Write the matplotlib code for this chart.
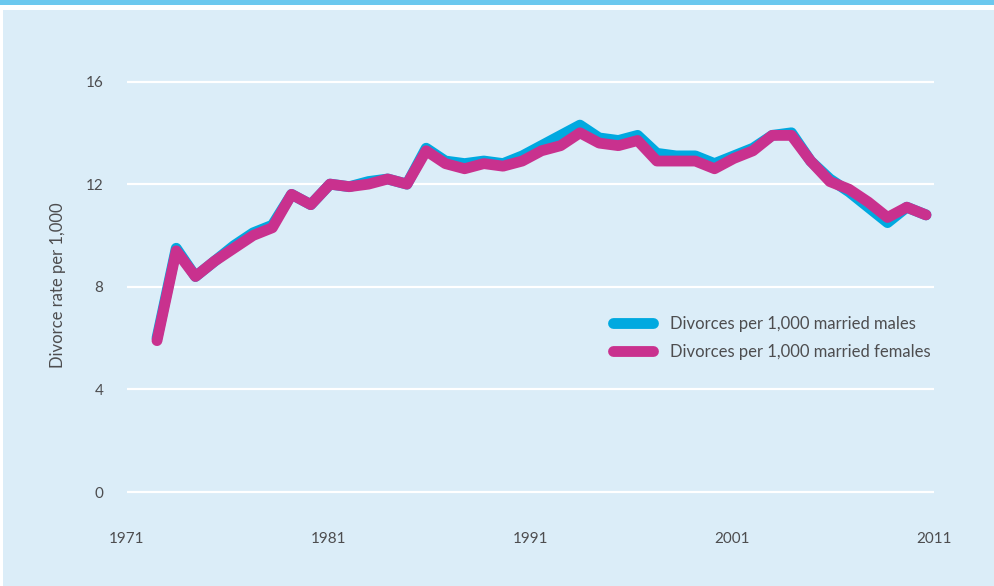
#!/usr/bin/env python3
""" Divorce rates per 1,000 married men and women, 1971 to 2011.
"""
import numpy as np
import matplotlib
matplotlib.use('Agg')
import matplotlib.pyplot as plt
from matplotlib.patches import Rectangle

years = list(range(1971, 2012))
males = [6.0, 9.5, 8.4, 9.0, 9.6, 10.1, 10.4, 11.6, 11.2, 12.0,
         11.9, 12.1, 12.2, 12.0, 13.4, 12.9, 12.8, 12.9, 12.8, 13.1,
         13.5, 13.9, 14.3, 13.8, 13.7, 13.9, 13.2, 13.1, 13.1, 12.8,
         13.1, 13.4, 13.9, 14.0, 12.9, 12.2, 11.7, 11.1, 10.5, 11.1,
         10.8]
females = [5.9, 9.4, 8.4, 9.0, 9.5, 10.0, 10.3, 11.6, 11.2, 12.0,
           11.9, 12.0, 12.2, 12.0, 13.3, 12.8, 12.6, 12.8, 12.7, 12.9,
           13.3, 13.5, 14.0, 13.6, 13.5, 13.7, 12.9, 12.9, 12.9, 12.6,
           13.0, 13.3, 13.9, 13.9, 12.9, 12.1, 11.8, 11.3, 10.7, 11.1,
           10.8]
xtick_labels = ['1971', '1981', '1991', '2001', '2011']
yticks = [0, 4, 8, 12, 16]
series_labels = ['Divorces per 1,000 married males',
                 'Divorces per 1,000 married females']

BLUE = '#00a9e0'
MAGENTA = '#c9318e'
PANEL = '#dbedf8'
BAR = '#6cc8ee'
TEXT = '#4d4d4f'

plt.rcParams['font.family'] = ['Lato', 'DejaVu Sans']

W, H = 995, 586
fig = plt.figure(figsize=(W / 100, H / 100), dpi=100)
fig.patch.set_facecolor('white')
fig.patches.append(Rectangle((0, 1 - 5 / H), 1, 5 / H, transform=fig.transFigure,
                             facecolor=BAR, edgecolor='none', zorder=-10))
fig.patches.append(Rectangle((3 / W, 0), 1, 1 - 10 / H, transform=fig.transFigure,
                             facecolor=PANEL, edgecolor='none', zorder=-10))

# axes box: gridlines run from x=127 to x=934, y(0)=492, y(16)=81.5
y0_px, y16_px = 492, 81.5
ppu = (y0_px - y16_px) / 16
ylo, yhi = -0.1, 16.1
ax_bottom = 1 - (y0_px + 0.1 * ppu) / H
ax_top = 1 - (y16_px - 0.1 * ppu) / H
ax = fig.add_axes([127 / W, ax_bottom, (934 - 127) / W, ax_top - ax_bottom])
ax.set_facecolor('none')
ax.set_zorder(2)

# data x: 1971 at pixel 157, 2011 at pixel 926
ppy = (926 - 157) / 40
xlo = 1971 + (127 - 157) / ppy
xhi = 1971 + (934 - 157) / ppy
ax.set_xlim(xlo, xhi)
ax.set_ylim(ylo, yhi)

ax.plot(years, males, color=BLUE, lw=7.8, solid_capstyle='round',
        solid_joinstyle='round', label=series_labels[0], zorder=3)
ax.plot(years, females, color=MAGENTA, lw=7.8, solid_capstyle='round',
        solid_joinstyle='round', label=series_labels[1], zorder=4)

for v in yticks:
    ax.axhline(v, color='white', lw=1.6, zorder=1)

ax.set_yticks(yticks)
ax.set_yticklabels([str(v) for v in yticks])
ax.set_xticks(np.linspace(xlo, xhi, len(xtick_labels)))
ax.set_xticklabels(xtick_labels)
ax.tick_params(axis='y', length=0, pad=17, labelsize=11, labelcolor=TEXT)
ax.tick_params(axis='x', length=0, pad=27, labelsize=11, labelcolor=TEXT)
for s in ax.spines.values():
    s.set_visible(False)

fig.text(58 / W, 1 - 285 / H, 'Divorce rate per 1,000', rotation=90,
         ha='center', va='center', fontsize=12, color=TEXT)

leg = ax.legend(loc='upper left', bbox_to_anchor=(613 / W, 1 - 316 / H),
                bbox_transform=fig.transFigure, frameon=False, fontsize=12,
                handlelength=2.4, handletextpad=1.0, labelspacing=0.72,
                borderpad=0, borderaxespad=0)
for t in leg.get_texts():
    t.set_color(TEXT)

plt.savefig('out.png', dpi=100, facecolor=fig.get_facecolor())
